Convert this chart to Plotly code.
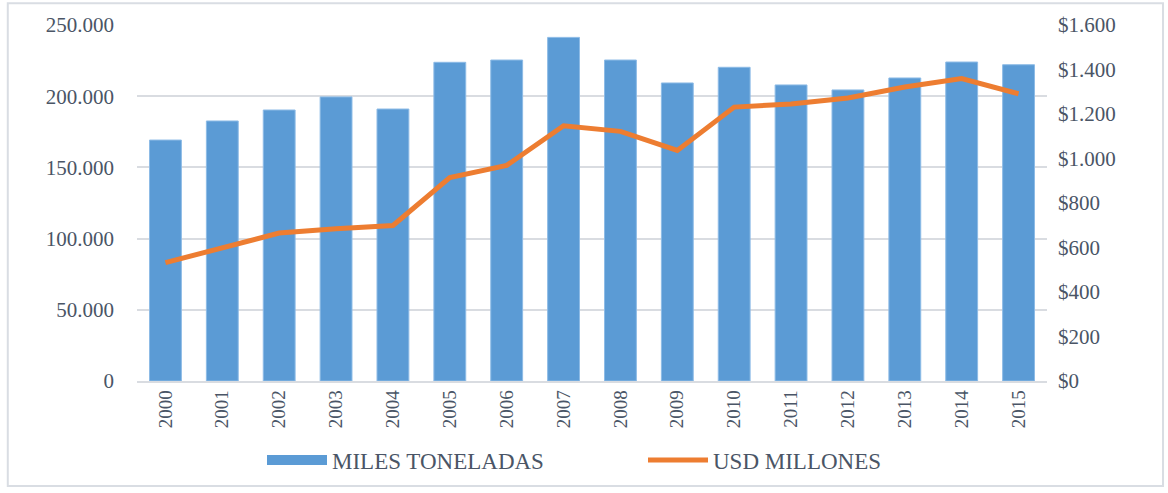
import plotly.graph_objects as go

years = [str(y) for y in range(2000, 2016)]
miles_toneladas = [169200, 182600, 190300, 199500, 191000, 223800, 225400, 241300,
                   225400, 209300, 220300, 207900, 204400, 212800, 224000, 222100]
usd_millones = [532, 599, 665, 684, 699, 914, 969, 1147,
                1122, 1036, 1231, 1245, 1272, 1321, 1359, 1291]

left_ticks = [0, 50000, 100000, 150000, 200000, 250000]
left_labels = ["0", "50.000", "100.000", "150.000", "200.000", "250.000"]
right_ticks = [0, 200, 400, 600, 800, 1000, 1200, 1400, 1600]
right_labels = ["$0", "$200", "$400", "$600", "$800", "$1.000", "$1.200", "$1.400", "$1.600"]

FONT = "Liberation Serif"
TXT = "#4a5566"
GRID = "#d9dce1"
BAR = "#5b9bd5"

fig = go.Figure()
fig.add_trace(go.Bar(
    x=years, y=miles_toneladas, name="MILES TONELADAS",
    marker=dict(color=BAR, line=dict(color="#8dbbe6", width=1)),
    yaxis="y", showlegend=False,
))
# legend entry for the bars (wide rectangular swatch)
fig.add_trace(go.Scatter(
    x=[None], y=[None], name="MILES TONELADAS", mode="lines",
    line=dict(color=BAR, width=10), yaxis="y",
))
fig.add_trace(go.Scatter(
    x=years, y=usd_millones, name="USD MILLONES", mode="lines",
    line=dict(color="#ed7d31", width=5),
    yaxis="y2",
))

fig.update_layout(
    width=1168, height=493,
    margin=dict(l=137, r=121, t=25, b=108),
    paper_bgcolor="white", plot_bgcolor="white",
    font=dict(family=FONT, color=TXT, size=19),
    bargap=0.44,
    showlegend=True,
    legend=dict(orientation="h", x=(262 - 137) / 910, xanchor="left", y=-0.222, yanchor="middle",
                font=dict(size=23, color=TXT), entrywidth=306, itemwidth=60),
    xaxis=dict(type="category", tickangle=-90, showgrid=False, ticks="",
               tickfont=dict(size=19), showline=True, linecolor=GRID, linewidth=1.5),
    yaxis=dict(range=[0, 250000], tickvals=left_ticks, ticktext=left_labels,
               showgrid=True, gridcolor=GRID, gridwidth=1.5, zeroline=False,
               ticks="", ticklabelstandoff=22, tickfont=dict(size=21)),
    yaxis2=dict(range=[0, 1600], tickvals=right_ticks, ticktext=right_labels,
                overlaying="y", side="right", showgrid=False, zeroline=False,
                ticks="", ticklabelstandoff=10, tickfont=dict(size=21)),
    shapes=[dict(type="rect", xref="paper", yref="paper",
                 x0=-0.142, x1=1.1275, y0=-0.295, y1=1.061,
                 line=dict(color="#d9dde3", width=2), layer="below")],
)

fig.write_html("out.html", config={"displayModeBar": False},
               post_script="document.body.style.margin='0';")
